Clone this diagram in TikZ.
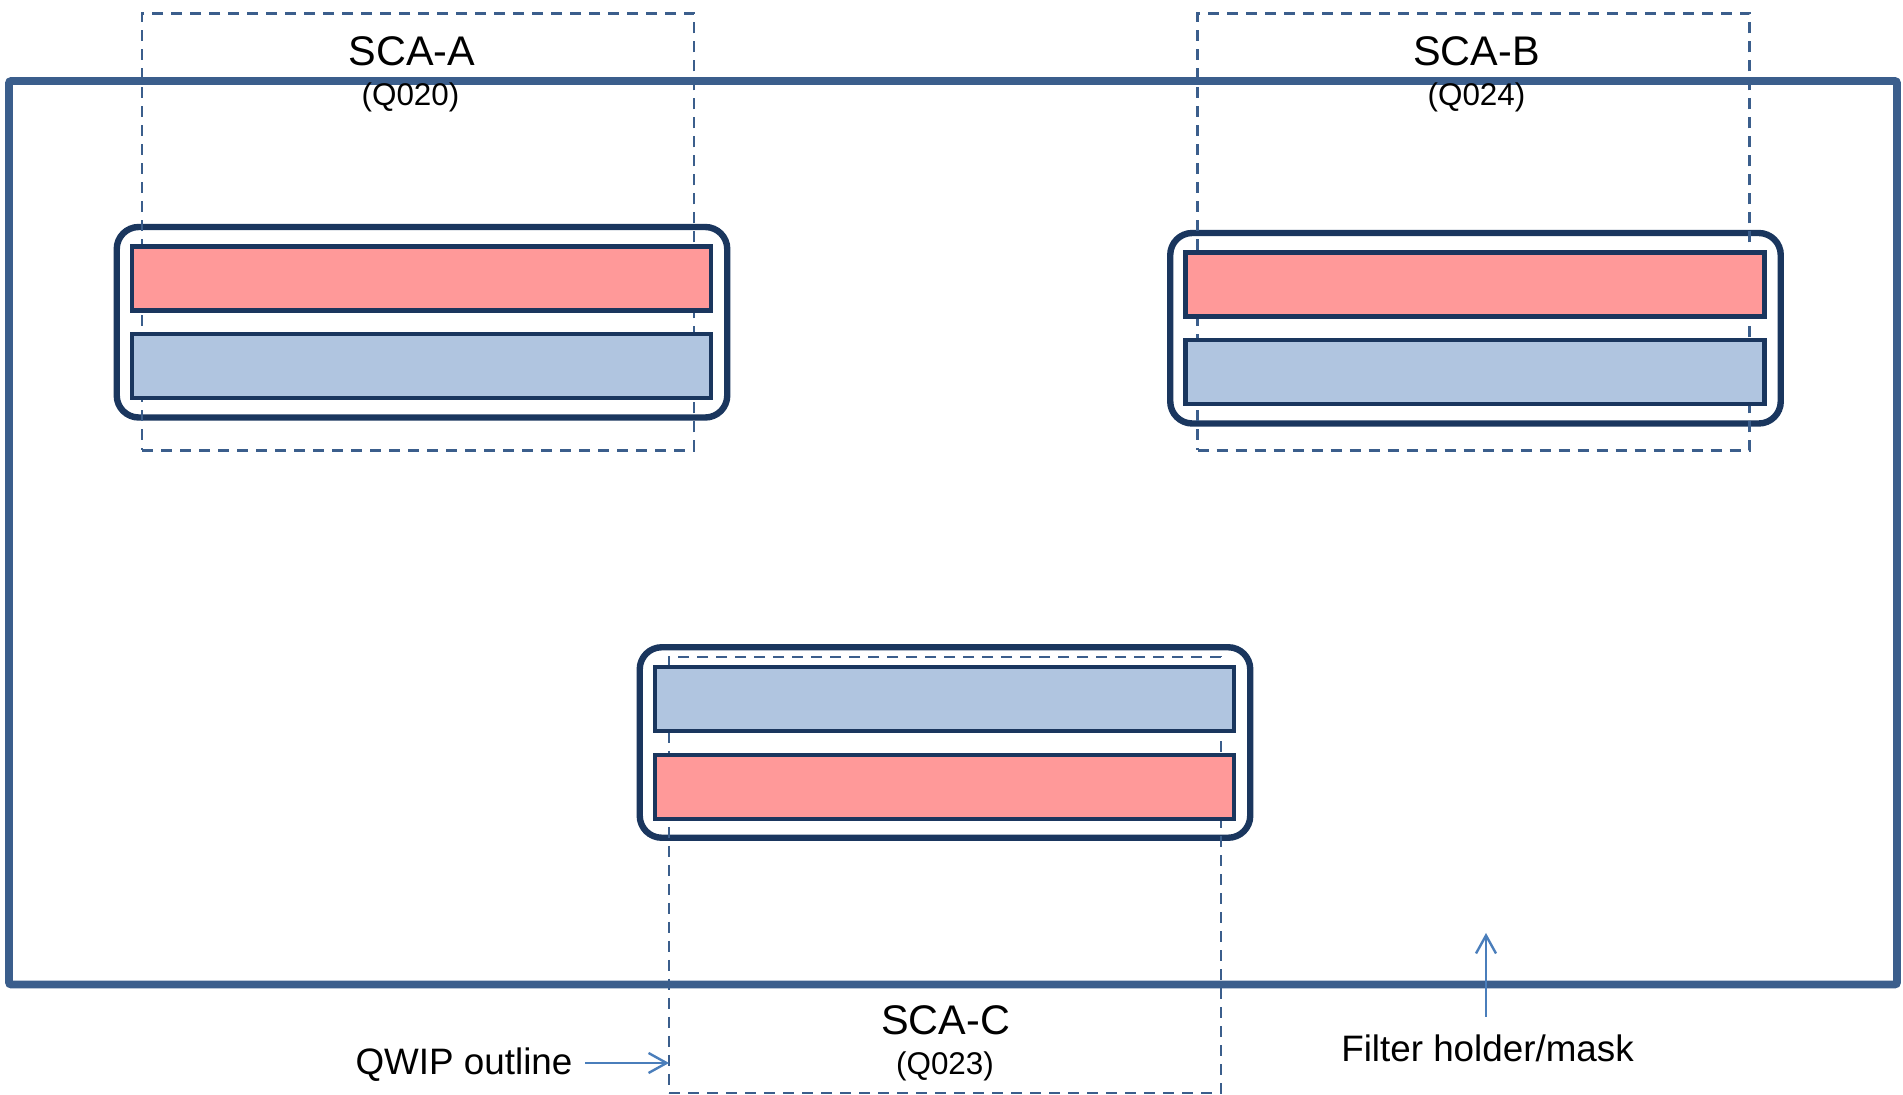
\documentclass[tikz,border=0pt]{standalone}
\usepackage{fontspec}
\setmainfont{Liberation Sans}
\usetikzlibrary{arrows.meta}
\definecolor{framecol}{RGB}{59,94,140}
\definecolor{navy}{RGB}{26,54,94}
\definecolor{redfill}{RGB}{255,153,153}
\definecolor{bluefill}{RGB}{176,197,224}
\definecolor{arrcol}{RGB}{74,126,187}
\tikzset{
  frame/.style={draw=framecol, line width=3.8pt, rounded corners=1pt, minimum width=944pt, minimum height=451.75pt, inner sep=0pt, outer sep=0pt},
  qwipbox/.style={draw=framecol, line width=1.4pt, dash pattern=on 5.5pt off 4pt, minimum width=276pt, minimum height=218.5pt, inner sep=0pt, outer sep=0pt},
  holder/.style={draw=navy, line width=3.2pt, rounded corners=11pt, minimum width=305.25pt, minimum height=95.25pt, inner sep=0pt, outer sep=0pt},
  redbar/.style={draw=navy, fill=redfill, line width=2.1pt, minimum width=289.5pt, minimum height=32pt, inner sep=0pt, outer sep=0pt},
  bluebar/.style={draw=navy, fill=bluefill, line width=2.1pt, minimum width=289.5pt, minimum height=32pt, inner sep=0pt, outer sep=0pt},
  scaname/.style={anchor=base, inner sep=0pt, font=\fontsize{20.7}{24}\selectfont},
  qname/.style={anchor=base, inner sep=0pt, font=\fontsize{15.7}{18}\selectfont},
  lbl/.style={anchor=base, inner sep=0pt, font=\fontsize{18.4}{22}\selectfont},
  arr/.style={draw=arrcol, line width=1.2pt, -{Straight Barb[length=9pt, width=10pt]}}
}
\begin{document}
\begin{tikzpicture}[x=0.5pt, y=-0.5pt]
\useasboundingbox (0,0) rectangle (1903,1095);
% filter holder / mask frame
\node[frame] (frame) at (953,532.75) {};
% chip holders
\node[holder] (holdA) at (422,322.25) {};
\node[holder] (holdB) at (1475.5,328.25) {};
\node[holder] (holdC) at (945,742.5) {};
% QWIP outlines
\node[qwipbox] (dashA) at (418,232) {};
\node[qwipbox] (dashB) at (1473.5,232) {};
\node[qwipbox, minimum height=218pt] (dashC) at (945,875) {};
% filter bars
\node[redbar] (redA) at (421.5,278.5) {};
\node[bluebar] (blueA) at (421.5,366.2) {};
\node[redbar] (redB) at (1475,284.5) {};
\node[bluebar] (blueB) at (1475,372.2) {};
\node[bluebar] (blueC) at (944.5,699) {};
\node[redbar] (redC) at (944.5,787) {};
% labels
\node[scaname] (tA) at (412,66) {SCA-A};
\node[qname] (qA) at (410.5,106) {(Q020)};
\node[scaname] (tB) at (1476.5,66) {SCA-B};
\node[qname] (qB) at (1476.5,106) {(Q024)};
\node[scaname] (tC) at (945.5,1035) {SCA-C};
\node[qname] (qC) at (945,1075) {(Q023)};
\node[lbl] (qwip) at (464,1075) {QWIP outline};
\node[lbl] (filt) at (1487.5,1062) {Filter holder/mask};
% arrows
\coordinate (qa) at (585,1063);
\draw[arr] (qa) -- (qa -| dashC.west);
\coordinate (fa) at (1486,1017);
\coordinate (fb) at (1486,933);
\draw[arr] (fa) -- (fb);
\end{tikzpicture}
\end{document}
